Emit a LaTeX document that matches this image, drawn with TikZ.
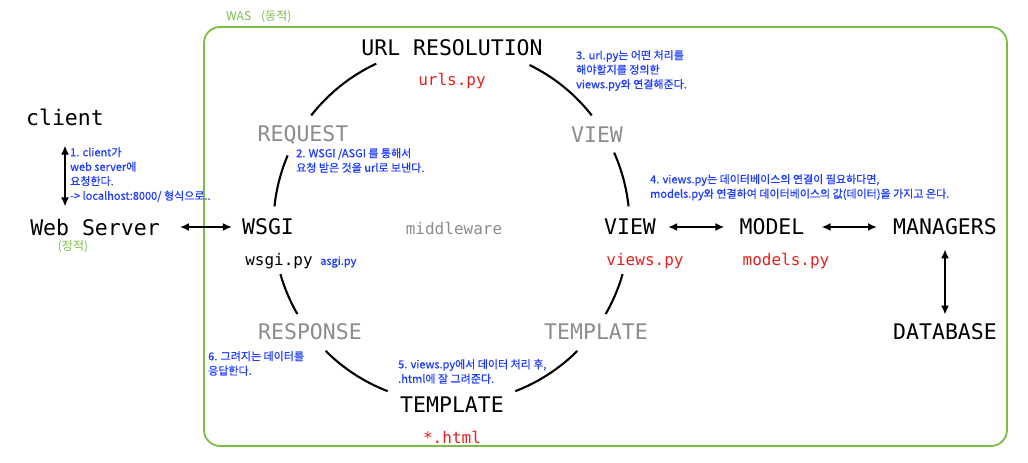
\documentclass[tikz,border=0pt]{standalone}
\usepackage{fontspec}
\usetikzlibrary{arrows.meta}
\newfontfamily\monof{DejaVu Sans Mono}
\newfontfamily\krf[FakeBold=0.6]{Noto Sans CJK KR}
\newfontfamily\krg{Noto Sans CJK KR}
\definecolor{wasgreen}{RGB}{122,190,72}
\definecolor{noteblue}{RGB}{30,60,255}
\definecolor{codered}{RGB}{235,30,30}
\definecolor{lblgray}{RGB}{140,140,140}
\begin{document}
\begin{tikzpicture}[x=1pt,y=-1pt,
  big/.style={font=\monof\fontsize{21.5}{24}\selectfont, inner sep=0pt},
  faded/.style={big, text=lblgray},
  mid/.style={font=\monof\fontsize{16}{18}\selectfont, text=lblgray, inner sep=0pt},
  code/.style={font=\monof\fontsize{16}{18}\selectfont, text=codered, inner sep=0pt},
  codeblack/.style={font=\monof\fontsize{16}{18}\selectfont, inner sep=0pt},
  note/.style={font=\krf\fontsize{11}{14.5}\selectfont, text=noteblue, align=left, anchor=north west, inner sep=0pt},
  greennote/.style={font=\krg\fontsize{12}{13}\selectfont, text=wasgreen, inner sep=0pt},
  dbl/.style={{Latex[length=9pt,width=8pt]}-{Latex[length=9pt,width=8pt]}, line width=1.8pt},
  ring/.style={line width=2.1pt}]
\useasboundingbox (0,0) rectangle (1028,463);
% WAS box
\draw[wasgreen, line width=1.8pt, rounded corners=16pt] (204,27) rectangle (1007,446);
\node[greennote, anchor=west] (waslbl) at (226,17) {WAS\hspace{10pt}(동적)};

% left side
\node[big] (client) at (65,117) {client};
\node[big] (ws) at (95,227) {Web Server};
\node[greennote] (static) at (73,247) {(정적)};
\node[note] (n1) at (70,147) {1. client가\\web server에\\요청한다.\\-> localhost:8000/ 형식으로..};

% ring labels
\node[big] (wsgi) at (268,227) {WSGI};
\node[codeblack] (wsgipy) at (279,261) {wsgi.py};
\node[font=\krf\fontsize{11}{13}\selectfont, text=noteblue, inner sep=0pt, anchor=west] (asgipy) at (320,262) {asgi.py};
\node[faded] (req) at (303,135) {REQUEST};
\node[big] (url) at (452,48) {URL RESOLUTION};
\node[code] (urlspy) at (452,81) {urls.py};
\node[faded] (viewg) at (597,135) {VIEW};
\node[mid] (mw) at (454,228) {middleware};
\node[big] (view) at (630,227) {VIEW};
\node[code] (viewspy) at (645,261) {views.py};
\node[faded] (resp) at (310,332) {RESPONSE};
\node[faded] (tplg) at (596,332) {TEMPLATE};
\node[big] (tpl) at (452,405) {TEMPLATE};
\node[code] (html) at (452,437) {*.html};

% right side
\node[big] (model) at (772,227) {MODEL};
\node[code] (modelspy) at (786,261) {models.py};
\node[big] (mgr) at (945,227) {MANAGERS};
\node[big] (db) at (945,332) {DATABASE};

% notes
\node[note] (n2) at (296,148) {2. WSGI /ASGI 를 통해서\\요청 받은 것을 url로 보낸다.};
\node[note] (n3) at (576,50) {3. url.py는 어떤 처리를\\해야할지를 정의한\\views.py와 연결해준다.};
\node[note] (n4) at (650,174) {4. views.py는 데이터베이스의 연결이 필요하다면,\\models.py와 연결하여 데이터베이스의 값(데이터)을 가지고 온다.};
\node[note] (n5) at (398,359) {5. views.py에서 데이터 처리 후,\\.html에 잘 그려준다.};
\node[note] (n6) at (208,351) {6. 그려지는 데이터를\\응답한다.};

% ring arcs
\coordinate (c) at (451.5,225);
\foreach \a/\b in {-115/-142, -38/-64, -157/-174, -6/-24, 164/150, 30/16, 135/111, 69/45}
  \draw[ring] (c) ++(\a:178) arc[start angle=\a, end angle=\b, radius=178];

% arrows
\draw[dbl, shorten <=20pt, shorten >=12pt] (client.south) -- (client.south |- ws.north);
\draw[dbl, shorten <=20pt, shorten >=10pt] (ws) -- (wsgi);
\draw[dbl, shorten <=12pt, shorten >=15pt] (view) -- (model);
\draw[dbl, shorten <=17pt, shorten >=16pt] (model) -- (mgr);
\draw[dbl, shorten <=14pt, shorten >=9pt] (mgr.south) -- (db.north);
\end{tikzpicture}
\end{document}
